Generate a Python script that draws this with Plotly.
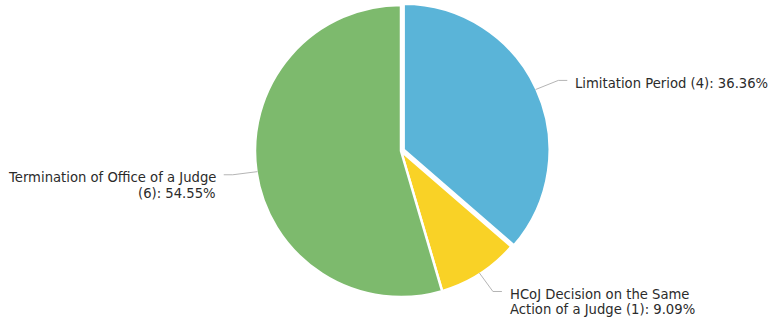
import math
import plotly.graph_objects as go

# Cases by reason
categories = ["Limitation Period", "HCoJ Decision on the Same Action of a Judge", "Termination of Office of a Judge"]
counts = [4, 1, 6]
colors = ["#5ab4d8", "#f9d226", "#7dba6d"]
# where each outside label breaks onto a second line (word index), None = single line
label_breaks = [None, 5, 6]

W, H = 770, 326
CX, CY, R = 401, 151, 146
PULL = [0.02, 0, 0]
FONT = "DejaVu Sans, Verdana, sans-serif"
FONT_SIZE = 13.2
LINE_PITCH = 15.5
TEXT_COLOR = "#2b2b2b"


def px(x, y):
    return x / W, 1 - y / H


total = sum(counts)
pcts = [c / total * 100 for c in counts]

span = R * (1 + max(PULL))
x0, y0 = px(CX - span, CY + span)
x1, y1 = px(CX + span, CY - span)

fig = go.Figure(go.Pie(
    labels=categories,
    values=counts,
    sort=False,
    direction="clockwise",
    rotation=0,
    pull=PULL,
    marker=dict(colors=colors, line=dict(color="white", width=2.5)),
    textinfo="none",
    hovertemplate="%{label} (%{value}): %{percent}<extra></extra>",
    domain=dict(x=[x0, x1], y=[y0, y1]),
    showlegend=False,
))

shapes, annotations = [], []
start = 0.0
for name, cnt, pct, brk, pull in zip(categories, counts, pcts, label_breaks, PULL):
    mid = (start + pct / 2) / 100 * 2 * math.pi
    start += pct
    dx, dy = math.sin(mid), -math.cos(mid)
    ox, oy = CX + dx * R * pull, CY + dy * R * pull
    ex, ey = ox + dx * (R - 1), oy + dy * (R - 1)
    kx, ky = ox + dx * (R + 24), oy + dy * (R + 21)
    side = 1 if dx >= 0 else -1
    hx = kx + side * 9
    path = "M {} {} L {} {} L {} {}".format(*px(ex, ey), *px(kx, ky), *px(hx, ky))
    shapes.append(dict(type="path", xref="paper", yref="paper", path=path,
                       line=dict(color="#b5b5b5", width=1)))

    text = f"{name} ({cnt}): {pct:.2f}%"
    words = text.split(" ")
    lines = [text] if brk is None else [" ".join(words[:brk]), " ".join(words[brk:])]
    tx = hx + side * 6
    ty = ky + 3
    for i, line in enumerate(lines):
        ax, ay = px(tx, ty + i * LINE_PITCH)
        annotations.append(dict(
            x=ax, y=ay, xref="paper", yref="paper", text=line, showarrow=False,
            xanchor="left" if side > 0 else "right", yanchor="middle",
            font=dict(family=FONT, size=FONT_SIZE, color=TEXT_COLOR),
        ))

fig.update_layout(
    width=W, height=H,
    margin=dict(l=0, r=0, t=0, b=0),
    paper_bgcolor="white", plot_bgcolor="white",
    shapes=shapes, annotations=annotations,
)

fig.write_html("out.html")
